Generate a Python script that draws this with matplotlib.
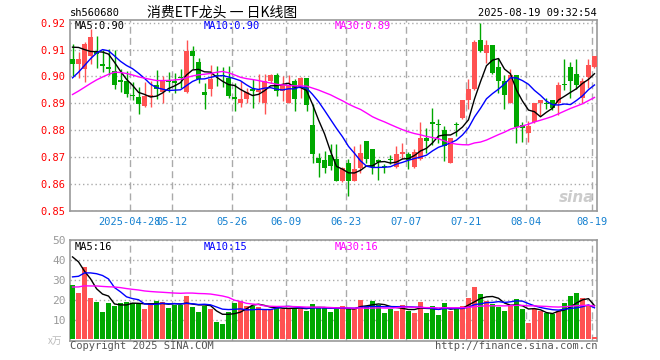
import numpy as np
import pandas as pd
import matplotlib
matplotlib.use('Agg')
import matplotlib.pyplot as plt

## Daily candles for 560680, 2025-04-14 .. 2025-08-19 (88 trading days)
open_ = [0.9065, 0.9045, 0.9027, 0.9078, 0.9090, 0.9047, 0.9037, 0.9022, 0.8987, 0.8985,
         0.8932, 0.8923, 0.8892, 0.8923, 0.8968, 0.8943, 0.8986, 0.8983, 0.8999, 0.8942,
         0.9094, 0.9054, 0.8942, 0.8954, 0.9007, 0.9006, 0.8995, 0.8923, 0.8902, 0.8915,
         0.8954, 0.8944, 0.8902, 0.8985, 0.9004, 0.8946, 0.8902, 0.8983, 0.8958, 0.8994,
         0.8820, 0.8696, 0.8690, 0.8709, 0.8693, 0.8612, 0.8680, 0.8612, 0.8658, 0.8760,
         0.8732, 0.8690, 0.8666, 0.8691, 0.8662, 0.8711, 0.8711, 0.8662, 0.8693, 0.8773,
         0.8831, 0.8820, 0.8801, 0.8680, 0.8820, 0.8844, 0.8912, 0.8952, 0.9135, 0.9088,
         0.9116, 0.9036, 0.8983, 0.8900, 0.9005, 0.8819, 0.8789, 0.8831, 0.8900, 0.8901,
         0.8912, 0.8900, 0.8971, 0.9035, 0.9011, 0.8919, 0.8998, 0.9036]
close = [0.9045, 0.9065, 0.9120, 0.9146, 0.9085, 0.9038, 0.9027, 0.8967, 0.8980, 0.8936,
         0.8926, 0.8896, 0.8929, 0.8932, 0.8952, 0.8985, 0.8978, 0.8977, 0.8994, 0.9094,
         0.9078, 0.8989, 0.8932, 0.8989, 0.9001, 0.9001, 0.8927, 0.8915, 0.8915, 0.8942,
         0.8947, 0.8949, 0.8983, 0.9005, 0.8946, 0.8970, 0.8970, 0.8915, 0.8994, 0.8893,
         0.8711, 0.8680, 0.8658, 0.8668, 0.8612, 0.8659, 0.8612, 0.8656, 0.8717, 0.8693,
         0.8662, 0.8683, 0.8664, 0.8689, 0.8711, 0.8721, 0.8690, 0.8721, 0.8773, 0.8760,
         0.8822, 0.8818, 0.8740, 0.8773, 0.8818, 0.8912, 0.8952, 0.9127, 0.9094, 0.9116,
         0.9014, 0.8983, 0.8931, 0.9005, 0.8814, 0.8810, 0.8816, 0.8900, 0.8911, 0.8899,
         0.8884, 0.8970, 0.8969, 0.8983, 0.8967, 0.8983, 0.9044, 0.9075]
high = [0.9120, 0.9090, 0.9130, 0.9177, 0.9150, 0.9097, 0.9103, 0.9097, 0.9029, 0.9022,
        0.8979, 0.8960, 0.8979, 0.8985, 0.9024, 0.9001, 0.9016, 0.9014, 0.9026, 0.9135,
        0.9115, 0.9069, 0.8977, 0.9044, 0.9038, 0.9036, 0.9038, 0.8977, 0.8983, 0.8958,
        0.8989, 0.9011, 0.9011, 0.9011, 0.9014, 0.9001, 0.9004, 0.8989, 0.8998, 0.8994,
        0.8896, 0.8717, 0.8723, 0.8748, 0.8748, 0.8662, 0.8693, 0.8742, 0.8748, 0.8760,
        0.8732, 0.8693, 0.8674, 0.8707, 0.8742, 0.8754, 0.8720, 0.8730, 0.8831, 0.8810,
        0.8884, 0.8841, 0.8816, 0.8773, 0.8831, 0.8912, 0.8989, 0.9135, 0.9199, 0.9135,
        0.9116, 0.9069, 0.9004, 0.9028, 0.9005, 0.8831, 0.8835, 0.8900, 0.8911, 0.8921,
        0.8912, 0.8980, 0.9065, 0.9053, 0.9065, 0.8995, 0.9065, 0.9075]
low = [0.9000, 0.8995, 0.8980, 0.9047, 0.9030, 0.9016, 0.9004, 0.8954, 0.8942, 0.8923,
       0.8911, 0.8861, 0.8888, 0.8886, 0.8915, 0.8900, 0.8942, 0.8940, 0.8958, 0.8937,
       0.9026, 0.8977, 0.8880, 0.8927, 0.8964, 0.8962, 0.8921, 0.8872, 0.8888, 0.8900,
       0.8884, 0.8905, 0.8859, 0.8977, 0.8927, 0.8909, 0.8900, 0.8872, 0.8921, 0.8872,
       0.8677, 0.8625, 0.8641, 0.8653, 0.8610, 0.8606, 0.8554, 0.8610, 0.8643, 0.8680,
       0.8637, 0.8616, 0.8643, 0.8674, 0.8658, 0.8693, 0.8656, 0.8658, 0.8690, 0.8717,
       0.8744, 0.8751, 0.8686, 0.8678, 0.8779, 0.8843, 0.8880, 0.8949, 0.9090, 0.9051,
       0.9011, 0.8940, 0.8880, 0.8900, 0.8754, 0.8757, 0.8757, 0.8826, 0.8853, 0.8880,
       0.8875, 0.8856, 0.8949, 0.8921, 0.8954, 0.8900, 0.8958, 0.9031]
## volume in 万 (10k) shares
volume = [27.5, 23.5, 36.5, 21, 19, 14, 18.5, 16.7, 18.5, 19,
          18.5, 18, 15.5, 18.5, 19.5, 19, 16, 17.2, 17.2, 22,
          16.5, 14, 17, 15.5, 8.7, 8, 14, 18.5, 19.5, 17,
          17, 16.5, 15.5, 15.2, 16, 15.2, 16, 16, 15.5, 14.5,
          18, 16.5, 15.7, 14, 15.2, 17, 15.2, 15.2, 20, 17,
          19.5, 17.5, 13.5, 15.2, 14.5, 17.5, 14.5, 13.5, 19, 13.5,
          17, 12.5, 18.5, 14.5, 15.5, 17, 21, 26.5, 23, 19.5,
          18, 16.5, 14.5, 17.5, 20.5, 15.5, 8.5, 15.5, 14.5, 13.5,
          13, 14.5, 18.5, 22, 23.5, 21, 17.5, 1]

## 29 days before the window (estimated from where the MA lines start)
hist_close = [0.868, 0.870, 0.872, 0.869, 0.871, 0.873, 0.873,
              0.901, 0.905, 0.909, 0.910, 0.908, 0.907, 0.908,
              0.899, 0.896, 0.893, 0.892, 0.890, 0.890,
              0.8855, 0.887, 0.8896, 0.8875, 0.8909, 0.907, 0.916, 0.918, 0.909]
hist_vol = [22, 20, 23, 19, 21, 24, 20,
            28, 33, 30, 28, 30, 27, 26,
            24, 22, 23, 21, 18, 17,
            20.5, 19.5, 21, 23, 23, 36, 60, 40, 44]

tick_idx = [10, 17, 27, 36, 46, 56, 66, 76, 87]
tick_lbl = ['2025-04-28', '05-12', '05-26', '06-09', '06-23', '07-07', '07-21', '08-04', '08-19']

## moving averages
c_all = pd.Series(hist_close + close)
v_all = pd.Series(hist_vol + volume)
n0 = len(hist_close)
ma = {k: c_all.rolling(k).mean().values[n0:] for k in (5, 10, 30)}
vma = {k: v_all.rolling(k).mean().values[n0:] for k in (5, 10, 30)}

o = np.array(open_); c = np.array(close)
x = np.arange(len(c))
RED, GREEN = '#ff5252', '#00a800'
cols = [RED if cc >= oo else GREEN for oo, cc in zip(o, c)]
mono = 'DejaVu Sans Mono'
W, H = 660, 360

fig = plt.figure(figsize=(6.6, 3.6), dpi=100)
ax1 = fig.add_axes([70 / W, 1 - 211 / H, 527 / W, 191 / H])
ax2 = fig.add_axes([70 / W, 1 - 341 / H, 527 / W, 101 / H])

## candles
ax1.vlines(x, low, high, colors=cols, lw=1, zorder=3)
body = np.maximum(np.abs(c - o), 0.0004)
ax1.bar(x, body, bottom=np.minimum(o, c), width=5 / 6, color=cols, lw=0, zorder=4)
ax1.plot(x, ma[5], color='black', lw=1, zorder=5)
ax1.plot(x, ma[10], color='#0000ff', lw=1, zorder=5)
ax1.plot(x, ma[30], color='#ff00ff', lw=1, zorder=5)

## volume
ax2.bar(x, volume, width=5 / 6, color=cols, lw=0, zorder=3)
ax2.plot(x, vma[5], color='black', lw=1, zorder=5)
ax2.plot(x, vma[10], color='#0000ff', lw=1, zorder=5)
ax2.plot(x, vma[30], color='#ff00ff', lw=1, zorder=5)

for ax in (ax1, ax2):
    ax.set_xlim(-0.42, len(c) - 1 + 0.42)
    ax.set_xticks(np.array(tick_idx) - 0.42)
    ax.grid(axis='x', color='#aaaaaa', lw=1, linestyle=(0, (5, 3)))
    ax.grid(axis='y', color='#aaaaaa', lw=1, linestyle=(0, (1, 2)))
    ax.set_axisbelow(True)
    for s in ax.spines.values():
        s.set_color('#999999')
        s.set_linewidth(1.2)
    ax.tick_params(length=0)

ax1.set_ylim(0.85, 0.921)
ax1.set_yticks(np.arange(0.85, 0.9201, 0.01))
ax1.set_yticklabels(['%.2f' % v for v in np.arange(0.85, 0.9201, 0.01)],
                    color='red', family=mono, fontsize=7.5)
ax1.set_xticklabels(tick_lbl, color='#1480d0', family=mono, fontsize=7.5)
ax1.tick_params(axis='x', pad=4)
ax1.tick_params(axis='y', pad=3)

ax2.set_ylim(-0.8, 50)
ax2.set_yticks([10, 20, 30, 40, 50])
ax2.set_yticklabels(['10', '20', '30', '40', '50'], color='#999999', family=mono, fontsize=8)
ax2.set_xticklabels([])
ax2.tick_params(axis='y', pad=3)

## header
fig.text(70 / W, 1 - 13 / H, 'sh560680', family=mono, fontsize=7.5, va='center')
fig.text(222 / W, 1 - 13 / H, '消费ETF龙头 一 日K线图', family=['Noto Sans CJK SC', 'DejaVu Sans'],
         fontsize=10, ha='center', va='center')
fig.text(597 / W, 1 - 13 / H, '2025-08-19 09:32:54', family=mono, fontsize=7.5, ha='right', va='center')

## legends inside panels
for y, labels in ((26, ['MA5:0.90', 'MA10:0.90', 'MA30:0.89']), (247, ['MA5:16', 'MA10:15', 'MA30:16'])):
    for xx, t, col in zip((75, 204, 335), labels, ('black', '#0000ff', '#ff00ff')):
        fig.text(xx / W, 1 - y / H, t, family=mono, fontsize=7.5, color=col, va='center')

fig.text(48 / W, 1 - 341 / H, 'x万', family=['Noto Sans CJK SC', 'DejaVu Sans'], fontsize=7,
         color='#bbbbbb', va='center')
fig.text(70 / W, 1 - 346 / H, 'Copyright 2025 SINA.COM', family=mono, fontsize=7.5, color='#555555', va='center')
fig.text(597 / W, 1 - 346 / H, 'http://finance.sina.com.cn', family=mono, fontsize=7.5, color='#555555',
         ha='right', va='center')
## sina watermark
ax1.text(0.995, 0.07, 'sina', transform=ax1.transAxes, ha='right', va='center', fontsize=11,
         fontweight='bold', fontstyle='italic', color='#cccccc', zorder=1)

fig.savefig('out.png', dpi=100)
